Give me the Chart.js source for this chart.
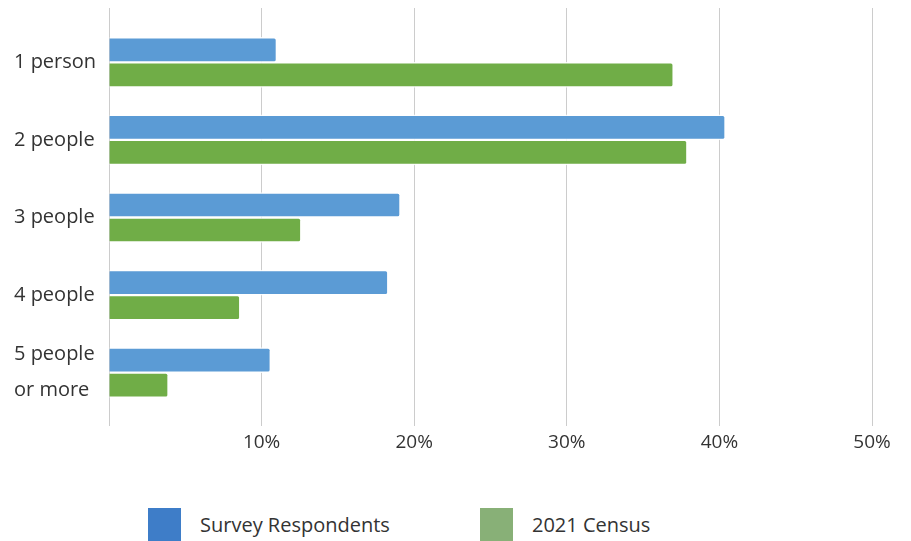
<!DOCTYPE html>
<html>
<head>
<meta charset="utf-8">
<script src="https://cdn.jsdelivr.net/npm/chart.js@4"></script>
<style>
  html, body { margin: 0; padding: 0; background: #fff; }
  #wrap { position: relative; width: 911px; height: 541px; font-family: 'Open Sans', sans-serif; color: #333; }
  #box { position: absolute; left: 0; top: 0; width: 911px; height: 465px; }
  .leg { position: absolute; top: 508px; height: 33px; display: flex; align-items: center; font-size: 20px; }
  .leg span.sw { width: 33px; height: 33px; margin-right: 19px; display: inline-block; }
</style>
</head>
<body>
<div id="wrap">
  <div id="box"><canvas id="chart"></canvas></div>
  <div id="legend"></div>
</div>
<script>
// ---- Data ----
const categories = ['1 person', '2 people', '3 people', '4 people', ['5 people', 'or more']];
const surveyValues = [11.0, 40.4, 19.1, 18.3, 10.6];
const censusValues = [37.0, 37.9, 12.6, 8.6, 3.9];
const seriesNames = ['Survey Respondents', '2021 Census'];
const barColors = ['#5b9bd5', '#70ad47'];
const legendColors = ['#3e7dc8', '#88b077'];
const xTicks = [0, 10, 20, 30, 40, 50];

const FONT = 'Open Sans';

// bars sit on a numeric index axis so the gridlines run past the outer groups
function toPoints(values) {
  return values.map((v, i) => ({ x: v, y: i }));
}

function barSet(i, values) {
  return {
    label: seriesNames[i],
    data: toPoints(values),
    backgroundColor: barColors[i],
    borderColor: 'rgba(255,255,255,0.85)',
    borderWidth: 1.5,
    borderSkipped: 'start',
    borderRadius: 3,
    barThickness: 25
  };
}

const ctx = document.getElementById('chart').getContext('2d');
new Chart(ctx, {
  type: 'bar',
  data: {
    datasets: [barSet(0, surveyValues), barSet(1, censusValues)]
  },
  options: {
    indexAxis: 'y',
    responsive: true,
    maintainAspectRatio: false,
    animation: false,
    layout: { padding: { left: 14, right: 39, top: 8, bottom: 6 } },
    plugins: { legend: { display: false }, tooltip: { enabled: false } },
    scales: {
      x: {
        type: 'linear',
        min: 0,
        max: 50,
        afterBuildTicks: s => { s.ticks = xTicks.map(v => ({ value: v })); },
        grid: { color: '#cccccc', lineWidth: 1, drawTicks: false },
        border: { display: false },
        ticks: {
          padding: 5,
          color: '#333',
          font: { family: FONT, size: 19 },
          callback: v => v === 0 ? '' : v + '%'
        }
      },
      y: {
        type: 'linear',
        reverse: true,
        offset: false,
        min: -0.7,
        max: 4.69,
        afterBuildTicks: s => { s.ticks = categories.map((c, i) => ({ value: i })); },
        afterFit: s => { s.width = 95; s.paddingTop = 0; s.paddingBottom = 0; },
        grid: { display: false, offset: false },
        border: { display: false },
        ticks: {
          crossAlign: 'far',
          color: '#333',
          font: { family: FONT, size: 20, lineHeight: 1.8 },
          callback: v => categories[v]
        }
      }
    }
  }
});

// ---- Legend ----
const legendLeft = [148, 480];
const legend = document.getElementById('legend');
seriesNames.forEach((name, i) => {
  const d = document.createElement('div');
  d.className = 'leg';
  d.style.left = legendLeft[i] + 'px';
  d.innerHTML = '<span class="sw" style="background:' + legendColors[i] + '"></span>' + name;
  legend.appendChild(d);
});
</script>
</body>
</html>
